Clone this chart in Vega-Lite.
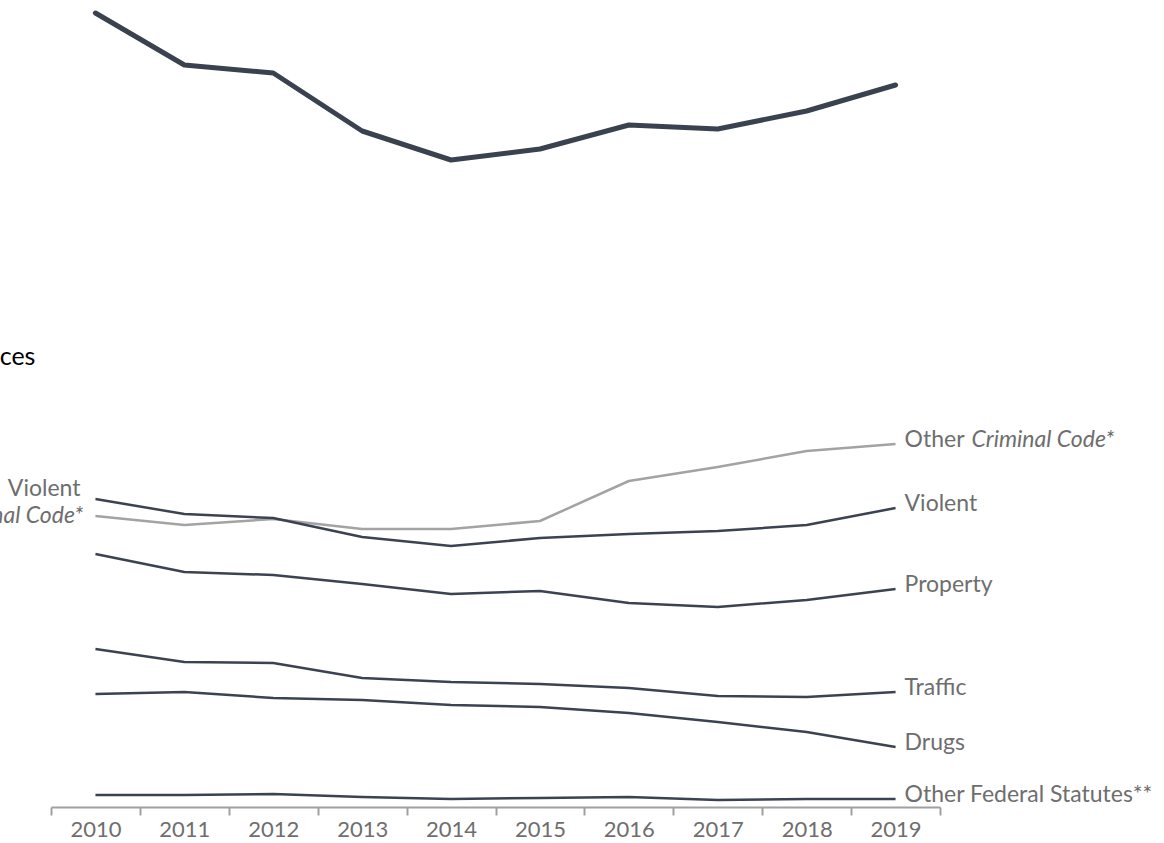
{
  "$schema": "https://vega.github.io/schema/vega-lite/v6.json",
  "autosize": {"type": "none"},
  "width": 889,
  "height": 807,
  "padding": {"left": 51, "top": 0, "right": 224, "bottom": 36},
  "background": "white",
  "config": {"view": {"stroke": null}, "font": "Lato"},
  "data": {"values": [
    {"year": "2010", "series": "Total", "value": 397},
    {"year": "2011", "series": "Total", "value": 371},
    {"year": "2012", "series": "Total", "value": 367},
    {"year": "2013", "series": "Total", "value": 338},
    {"year": "2014", "series": "Total", "value": 323.5},
    {"year": "2015", "series": "Total", "value": 329},
    {"year": "2016", "series": "Total", "value": 341},
    {"year": "2017", "series": "Total", "value": 339},
    {"year": "2018", "series": "Total", "value": 348},
    {"year": "2019", "series": "Total", "value": 361},
    {"year": "2010", "series": "Other Criminal Code*", "value": 145.5},
    {"year": "2011", "series": "Other Criminal Code*", "value": 141},
    {"year": "2012", "series": "Other Criminal Code*", "value": 144},
    {"year": "2013", "series": "Other Criminal Code*", "value": 139},
    {"year": "2014", "series": "Other Criminal Code*", "value": 139},
    {"year": "2015", "series": "Other Criminal Code*", "value": 143},
    {"year": "2016", "series": "Other Criminal Code*", "value": 163},
    {"year": "2017", "series": "Other Criminal Code*", "value": 170},
    {"year": "2018", "series": "Other Criminal Code*", "value": 178},
    {"year": "2019", "series": "Other Criminal Code*", "value": 181.5},
    {"year": "2010", "series": "Violent", "value": 154},
    {"year": "2011", "series": "Violent", "value": 146.5},
    {"year": "2012", "series": "Violent", "value": 144.5},
    {"year": "2013", "series": "Violent", "value": 135},
    {"year": "2014", "series": "Violent", "value": 130.5},
    {"year": "2015", "series": "Violent", "value": 134.5},
    {"year": "2016", "series": "Violent", "value": 136.5},
    {"year": "2017", "series": "Violent", "value": 138},
    {"year": "2018", "series": "Violent", "value": 141},
    {"year": "2019", "series": "Violent", "value": 149.5},
    {"year": "2010", "series": "Property", "value": 126.5},
    {"year": "2011", "series": "Property", "value": 117.5},
    {"year": "2012", "series": "Property", "value": 116},
    {"year": "2013", "series": "Property", "value": 111.5},
    {"year": "2014", "series": "Property", "value": 106.5},
    {"year": "2015", "series": "Property", "value": 108},
    {"year": "2016", "series": "Property", "value": 102},
    {"year": "2017", "series": "Property", "value": 100},
    {"year": "2018", "series": "Property", "value": 103.5},
    {"year": "2019", "series": "Property", "value": 109},
    {"year": "2010", "series": "Traffic", "value": 79},
    {"year": "2011", "series": "Traffic", "value": 72.5},
    {"year": "2012", "series": "Traffic", "value": 72},
    {"year": "2013", "series": "Traffic", "value": 64.5},
    {"year": "2014", "series": "Traffic", "value": 62.5},
    {"year": "2015", "series": "Traffic", "value": 61.5},
    {"year": "2016", "series": "Traffic", "value": 59.5},
    {"year": "2017", "series": "Traffic", "value": 55.5},
    {"year": "2018", "series": "Traffic", "value": 55},
    {"year": "2019", "series": "Traffic", "value": 57.5},
    {"year": "2010", "series": "Drugs", "value": 56.5},
    {"year": "2011", "series": "Drugs", "value": 57.5},
    {"year": "2012", "series": "Drugs", "value": 54.5},
    {"year": "2013", "series": "Drugs", "value": 53.5},
    {"year": "2014", "series": "Drugs", "value": 51},
    {"year": "2015", "series": "Drugs", "value": 50},
    {"year": "2016", "series": "Drugs", "value": 47},
    {"year": "2017", "series": "Drugs", "value": 42.5},
    {"year": "2018", "series": "Drugs", "value": 37.5},
    {"year": "2019", "series": "Drugs", "value": 30},
    {"year": "2010", "series": "Other Federal Statutes**", "value": 6},
    {"year": "2011", "series": "Other Federal Statutes**", "value": 6},
    {"year": "2012", "series": "Other Federal Statutes**", "value": 6.5},
    {"year": "2013", "series": "Other Federal Statutes**", "value": 5},
    {"year": "2014", "series": "Other Federal Statutes**", "value": 4},
    {"year": "2015", "series": "Other Federal Statutes**", "value": 4.5},
    {"year": "2016", "series": "Other Federal Statutes**", "value": 5},
    {"year": "2017", "series": "Other Federal Statutes**", "value": 3.5},
    {"year": "2018", "series": "Other Federal Statutes**", "value": 4},
    {"year": "2019", "series": "Other Federal Statutes**", "value": 4}
  ]},
  "encoding": {
    "x": {
      "field": "year", "type": "ordinal",
      "scale": {"type": "band", "paddingInner": 0, "paddingOuter": 0},
      "axis": {
        "title": null, "labelAngle": 0, "tickBand": "extent",
        "domainColor": "#a0a0a0", "domainWidth": 2,
        "tickColor": "#a0a0a0", "tickWidth": 2, "tickSize": 8,
        "labelColor": "#6e6e6e", "labelFontSize": 22, "labelFont": "Lato",
        "labelPadding": 4, "grid": false
      }
    },
    "y": {
      "field": "value", "type": "quantitative",
      "scale": {"domain": [0, 403.5], "nice": false, "zero": false},
      "axis": null
    }
  },
  "layer": [
    {
      "transform": [{"filter": "datum.series === 'Total'"}],
      "mark": {"type": "line", "color": "#3a4250", "strokeWidth": 5, "strokeCap": "round", "strokeJoin": "round"}
    },
    {
      "transform": [{"filter": "datum.series !== 'Total'"}],
      "mark": {"type": "line", "strokeWidth": 2.5, "strokeJoin": "round"},
      "encoding": {
        "color": {
          "field": "series", "type": "nominal", "legend": null,
          "scale": {
            "domain": ["Other Criminal Code*", "Violent", "Property", "Traffic", "Drugs", "Other Federal Statutes**"],
            "range": ["#a3a3a3", "#3b4252", "#3b4252", "#3b4252", "#3b4252", "#3b4252"]
          }
        }
      }
    },
    {
      "transform": [{"filter": "datum.year === '2019' && datum.series !== 'Total' && datum.series !== 'Other Criminal Code*'"}],
      "mark": {"type": "text", "align": "left", "baseline": "middle", "dx": 9, "dy": -4, "fontSize": 23, "color": "#6e6e6e", "font": "Lato"},
      "encoding": {"text": {"field": "series"}}
    },
    {
      "transform": [{"filter": "datum.year === '2019' && datum.series === 'Other Criminal Code*'"}],
      "mark": {"type": "text", "align": "left", "baseline": "middle", "dx": 9, "dy": -4, "fontSize": 23, "color": "#6e6e6e", "font": "Lato"},
      "encoding": {"text": {"value": "Other"}}
    },
    {
      "transform": [{"filter": "datum.year === '2019' && datum.series === 'Other Criminal Code*'"}],
      "mark": {"type": "text", "align": "left", "baseline": "middle", "dx": 76, "dy": -4, "fontSize": 23, "fontStyle": "italic", "color": "#6e6e6e", "font": "Lato"},
      "encoding": {"text": {"value": "Criminal Code*"}}
    },
    {
      "transform": [{"filter": "datum.year === '2010' && datum.series === 'Violent'"}],
      "mark": {"type": "text", "align": "right", "baseline": "middle", "dx": -15, "dy": -10, "fontSize": 23, "color": "#6e6e6e", "font": "Lato"},
      "encoding": {"text": {"field": "series"}}
    },
    {
      "transform": [{"filter": "datum.year === '2010' && datum.series === 'Other Criminal Code*'"}],
      "mark": {"type": "text", "align": "right", "baseline": "middle", "dx": -12, "dy": 0, "fontSize": 23, "fontStyle": "italic", "color": "#6e6e6e", "font": "Lato"},
      "encoding": {"text": {"value": "Criminal Code*"}}
    },
    {
      "transform": [{"filter": "datum.year === '2010' && datum.series === 'Other Criminal Code*'"}],
      "mark": {"type": "text", "align": "right", "baseline": "middle", "dx": -165, "dy": 0, "fontSize": 23, "color": "#6e6e6e", "font": "Lato"},
      "encoding": {"text": {"value": "Other"}}
    },
    {
      "transform": [{"filter": "datum.year === '2010' && datum.series === 'Total'"}],
      "mark": {"type": "text", "align": "right", "baseline": "middle", "dx": -60, "fontSize": 25, "color": "#000000", "font": "Lato"},
      "encoding": {
        "y": {"datum": 225, "type": "quantitative"},
        "text": {"value": "Offences"}
      }
    }
  ]
}
